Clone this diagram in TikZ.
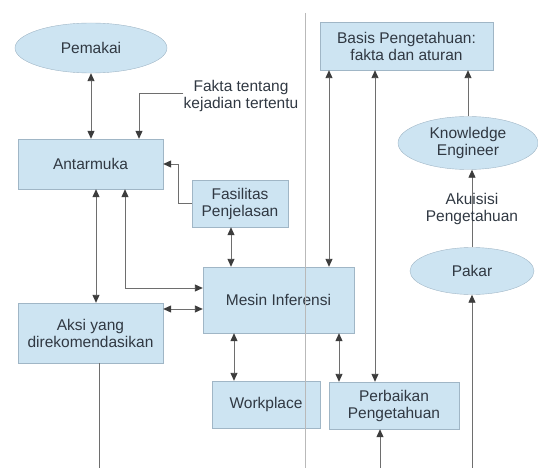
\documentclass[tikz,border=0pt]{standalone}
\usepackage{fontspec}
\setmainfont{Liberation Sans}
\usetikzlibrary{shapes.geometric,arrows.meta}
\definecolor{isikotak}{RGB}{205,228,242}
\definecolor{garisk}{RGB}{160,182,198}
\definecolor{teks}{RGB}{48,56,66}
\definecolor{kawat}{RGB}{110,110,110}
\definecolor{ujungp}{RGB}{60,60,60}
\definecolor{pembatas}{RGB}{185,185,185}

\begin{document}
\begin{tikzpicture}[x=1pt,y=-1pt,
  font=\fontsize{15.5}{17}\selectfont,
  kotak/.style={draw=garisk,fill=isikotak,text=teks,align=center,inner sep=0pt},
  elips/.style={ellipse,draw=garisk,fill=isikotak,text=teks,align=center,inner sep=0pt},
  label/.style={text=teks,align=center,inner sep=0pt},
  panah/.style={draw=kawat,line width=0.9pt},
  >={Triangle[width=7pt,length=8pt,color=ujungp]}]
\useasboundingbox (0,0) rectangle (538,468);
\coordinate (bawah) at (0,468);

% boxes and ellipses
\node[elips,minimum width=152pt,minimum height=50pt] (pemakai) at (91,48) {Pemakai};
\node[kotak,minimum width=145pt,minimum height=50pt] (antarmuka) at (90.5,164) {Antarmuka};
\node[kotak,minimum width=96pt,minimum height=47pt] (fasilitas) at (240,203.5) {Fasilitas\\Penjelasan};
\node[kotak,minimum width=151pt,minimum height=66pt] (mesin) at (278.5,300) {Mesin Inferensi};
\node[kotak,minimum width=145pt,minimum height=60pt] (aksi) at (90.5,333) {Aksi yang\\direkomendasikan};
\node[kotak,minimum width=108pt,minimum height=47pt] (workplace) at (266,404.5) {Workplace};
\node[kotak,minimum width=130pt,minimum height=47pt] (perbaikan) at (394,405.5) {Perbaikan\\Pengetahuan};
\node[kotak,minimum width=173pt,minimum height=48pt] (basis) at (406.5,46) {Basis Pengetahuan:\\fakta dan aturan};
\node[elips,minimum width=140pt,minimum height=53pt] (engineer) at (468,143) {Knowledge\\Engineer};
\node[elips,minimum width=124pt,minimum height=47pt] (pakar) at (472,271) {Pakar};
\node[label] (fakta) at (241,96) {Fakta tentang\\kejadian tertentu};

% left side
\draw[panah,<->] (pemakai.south) -- (pemakai.south |- antarmuka.north);
\draw[panah,->] ([yshift=3pt]fakta.west) -| ([xshift=48.5pt]antarmuka.north);
\draw[panah,->] (fasilitas.west) -- ++(-13,0) |- (antarmuka.east);
\draw[panah,<->] ([xshift=-9pt]fasilitas.south) -- ([xshift=-9pt]fasilitas.south |- mesin.north);
\draw[panah,<->] ([xshift=5.5pt]antarmuka.south) -- ([xshift=5.5pt]antarmuka.south |- aksi.north);
\draw[panah,<->] ([xshift=34.5pt]antarmuka.south) |- ([yshift=12pt]mesin.west);
\draw[panah,<->] (aksi.east |- 0,309) -- ([yshift=-9pt]mesin.west);
\draw[panah] ([xshift=8.5pt]aksi.south) -- ([xshift=8.5pt]aksi.south |- bawah);

% middle
\draw[panah,<->] ([xshift=-32pt]workplace.north |- mesin.south) -- ([xshift=-32pt]workplace.north);
\draw[panah,<->] ([xshift=-55pt]perbaikan.north |- mesin.south) -- ([xshift=-55pt]perbaikan.north);
\draw[panah,<->] ([xshift=-77.5pt]basis.south) -- ([xshift=-77.5pt]basis.south |- mesin.north);
\draw[panah,<->] ([xshift=-31.5pt]basis.south) -- ([xshift=-31.5pt]basis.south |- perbaikan.north);
\draw[panah,->] ([xshift=-14pt]perbaikan.south |- bawah) -- ([xshift=-14pt]perbaikan.south);

% right side
\draw[panah,->] (engineer.north) -- (engineer.north |- basis.south);
\draw[panah,->] (pakar.north) -- (pakar.north |- engineer.south)
  node[label,pos=0.5] (akuisisi) {Akuisisi\\Pengetahuan};
\draw[panah,->] (pakar.south |- bawah) -- (pakar.south);

\draw[pembatas,line width=1pt] (305,13) -- (305,468);
\end{tikzpicture}
\end{document}
